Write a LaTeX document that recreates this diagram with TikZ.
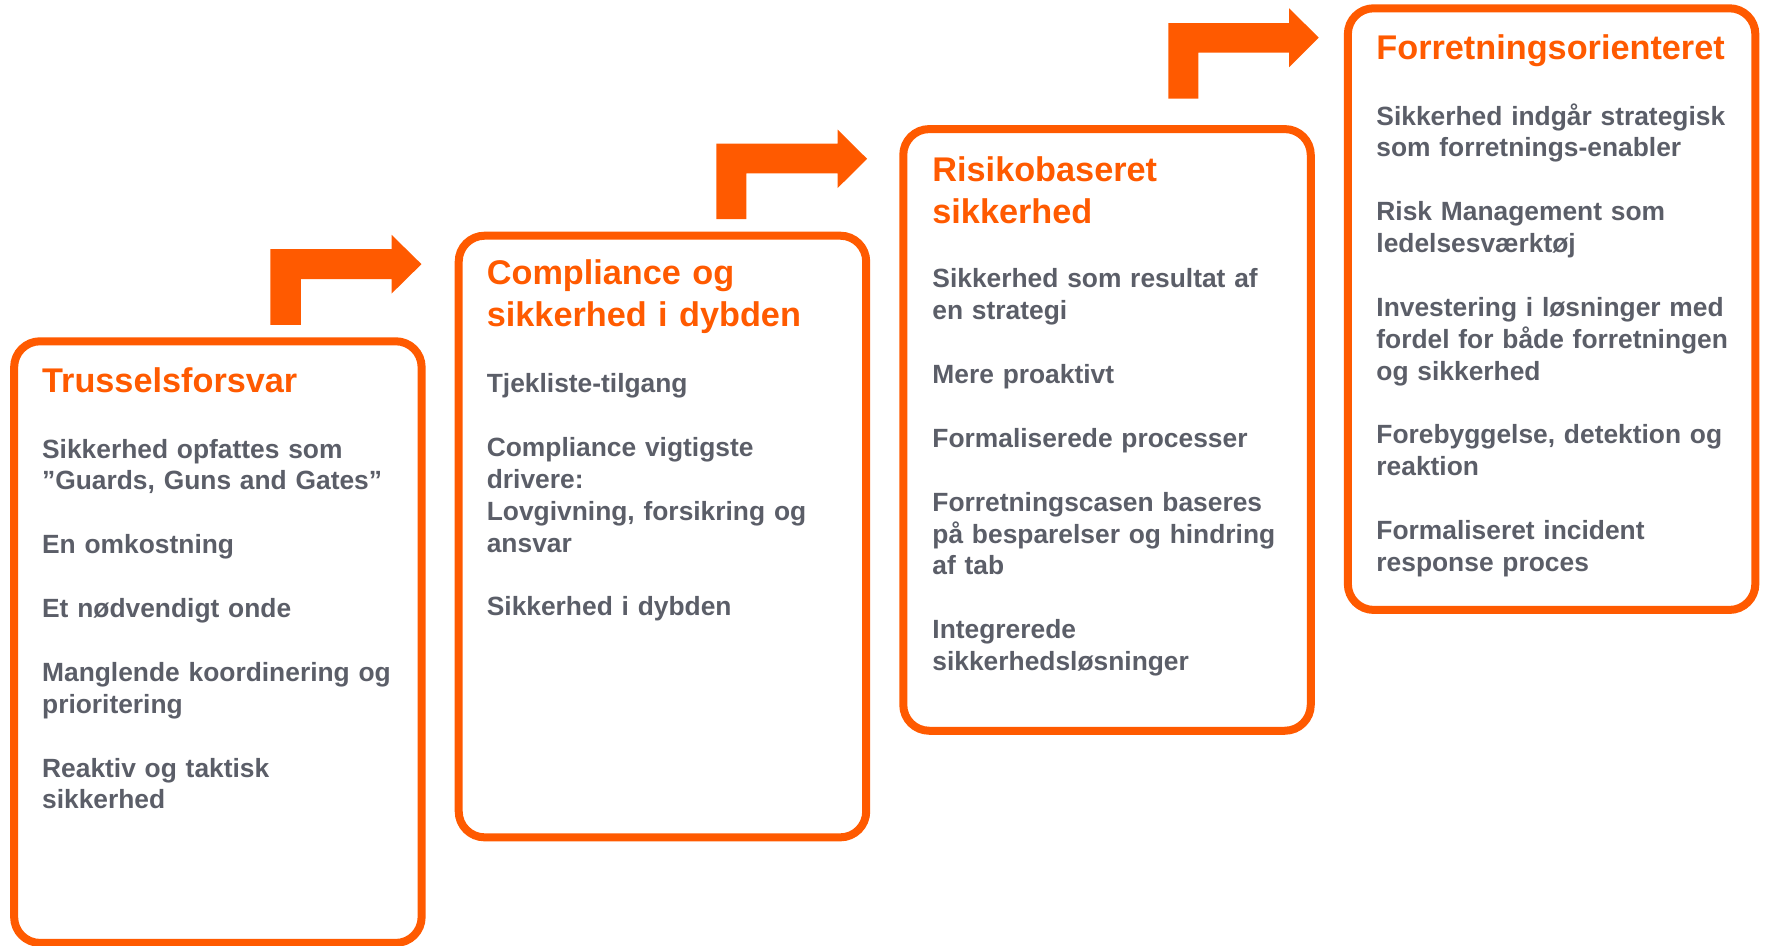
\documentclass[tikz,border=0pt]{standalone}
\usepackage{fontspec}
\setmainfont{Liberation Sans}
\usepackage{tikz}
\definecolor{stageorange}{RGB}{255,90,0}
\definecolor{stagegrey}{RGB}{91,94,104}

\begin{document}
\begin{tikzpicture}[x=0.5pt,y=0.5pt,yscale=-1,xscale=1,
  stagebox/.style={draw=stageorange,line width=3.55pt,rounded corners=11.5pt,minimum width=180.8pt,minimum height=266.95pt,inner sep=0pt,outer sep=0pt,anchor=north west},
  stagetitle/.style={anchor=base west,inner sep=0pt,text width=175pt,align=left,text=stageorange,font=\fontsize{15.2}{18.5}\selectfont\bfseries},
  stagetext/.style={anchor=base west,inner sep=0pt,text width=170pt,align=left,text=stagegrey,font=\fontsize{11.7}{14.15}\selectfont\bfseries},
  steparrow/.style={fill=stageorange}]
\useasboundingbox (0,0) rectangle (1568,839.4);

%Rounded Rect
\node [stagebox] (s1) at (12.55,302.85) {};
%Rounded Rect
\node [stagebox] (s2) at (407.05,209.15) {};
%Rounded Rect
\node [stagebox] (s3) at (801.55,114.55) {};
%Rounded Rect
\node [stagebox] (s4) at (1196.05,7.35) {};

%Right Angle Arrow
\fill [steparrow] (240,288.2) -- (240,221.1) -- (347.5,221.1) -- (347.5,208.4) -- (374,234.4) -- (347.5,260.5) -- (347.5,247.7) -- (266.9,247.7) -- (266.9,288.2) -- cycle ;
%Right Angle Arrow
\fill [steparrow] (635.6,194.5) -- (635.6,127.5) -- (743.3,127.5) -- (743.3,115) -- (769.4,140.9) -- (743.3,166.9) -- (743.3,153.9) -- (662.4,153.9) -- (662.4,194.5) -- cycle ;
%Right Angle Arrow
\fill [steparrow] (1036.7,87.5) -- (1036.7,20.6) -- (1144,20.6) -- (1144,7.5) -- (1170.2,33.3) -- (1144,59.6) -- (1144,46.8) -- (1063.4,46.8) -- (1063.4,87.5) -- cycle ;

% Text Node
\node [stagetitle] (h1) at (37,348.4) {Trusselsforsvar};
% Text Node
\node [stagetext] (t1) at (37,406.5) {Sikkerhed opfattes som\\”Guards, Guns and Gates”\\[14.15pt]En omkostning\\[14.15pt]Et nødvendigt onde\\[14.15pt]Manglende koordinering og\\prioritering\\[14.15pt]Reaktiv og taktisk\\sikkerhed};

% Text Node
\node [stagetitle] (h2) at (431.6,252.5) {Compliance og\\sikkerhed i dybden};
% Text Node
\node [stagetext] (t2) at (431.6,348.5) {Tjekliste-tilgang\\[14.15pt]Compliance vigtigste\\drivere:\\Lovgivning, forsikring og\\ansvar\\[14.15pt]Sikkerhed i dybden};

% Text Node
\node [stagetitle] (h3) at (827,161.2) {Risikobaseret\\sikkerhed};
% Text Node
\node [stagetext] (t3) at (827,255.5) {Sikkerhed som resultat af\\en strategi\\[14.15pt]Mere proaktivt\\[14.15pt]Formaliserede processer\\[14.15pt]Forretningscasen baseres\\på besparelser og hindring\\af tab\\[14.15pt]Integrerede\\sikkerhedsløsninger};

% Text Node
\node [stagetitle] (h4) at (1221,53) {Forretningsorienteret};
% Text Node
\node [stagetext] (t4) at (1221,111) {Sikkerhed indgår strategisk\\som forretnings-enabler\\[14.15pt]Risk Management som\\ledelsesværktøj\\[14.15pt]Investering i løsninger med\\fordel for både forretningen\\og sikkerhed\\[14.15pt]Forebyggelse, detektion og\\reaktion\\[14.15pt]Formaliseret incident\\response proces};

\end{tikzpicture}
\end{document}
